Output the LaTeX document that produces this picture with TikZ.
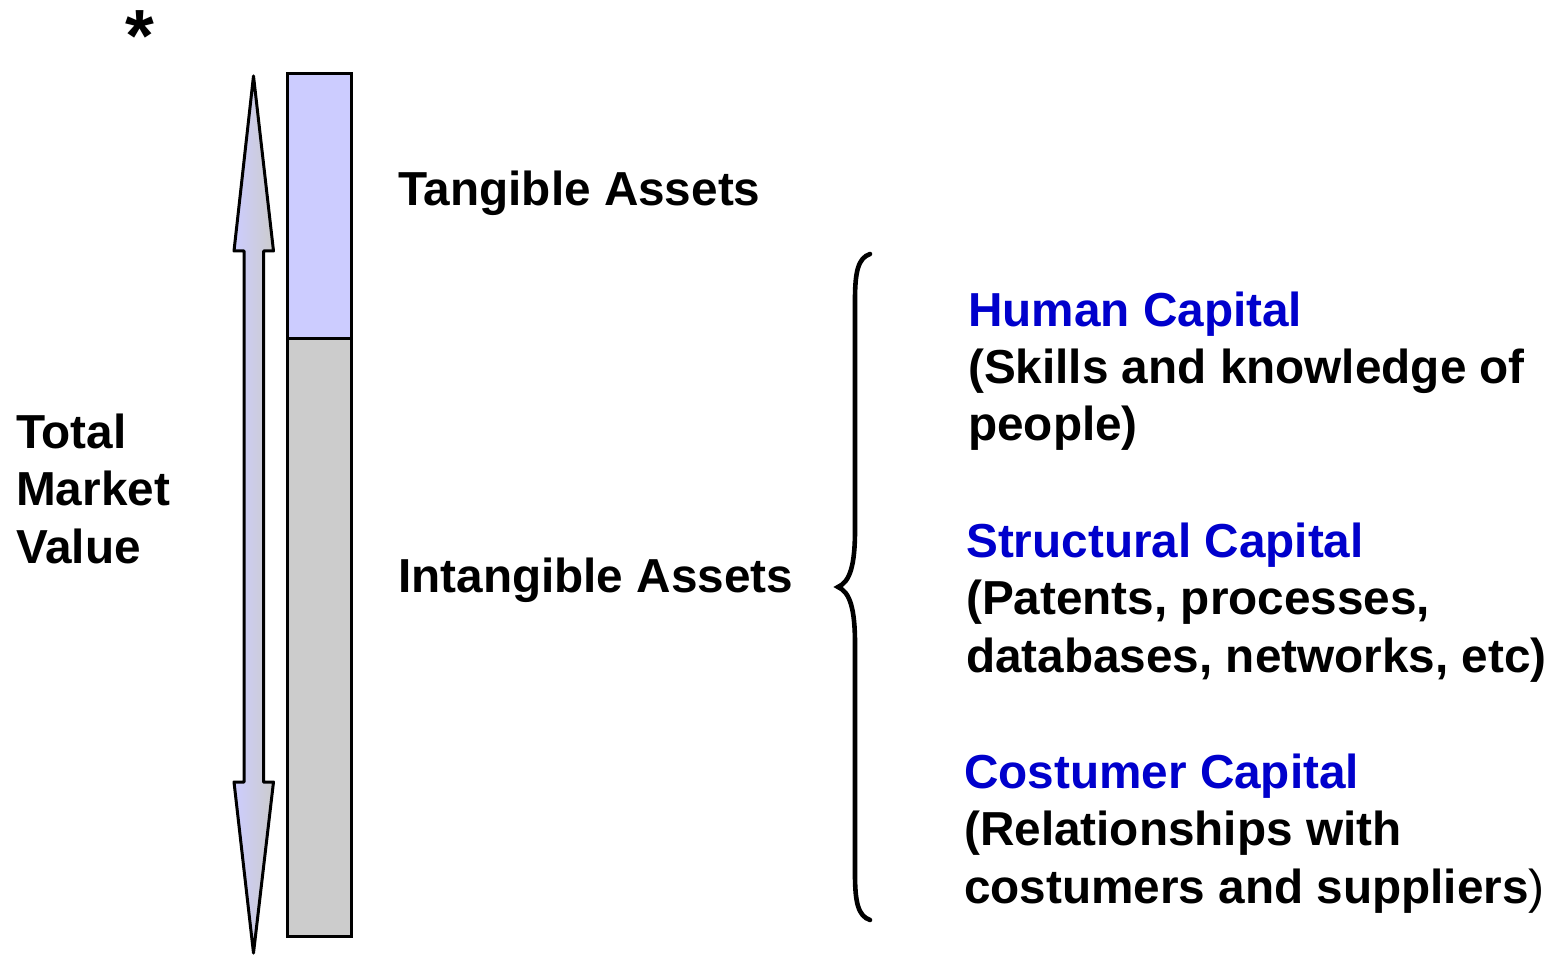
\documentclass[tikz,border=0pt]{standalone}
\usepackage{fontspec}
\setmainfont{Liberation Sans}
\begin{document}
\begin{tikzpicture}[x=1pt,y=-1pt,
  lbl/.style={inner sep=0pt,anchor=base west,align=left,
    font=\fontsize{47.7}{57.5}\selectfont\bfseries},
  outline/.style={draw=black,line width=3pt},
  barpart/.style={outline,line join=miter,minimum width=63.5pt,
    inner sep=0pt,outer sep=0pt,anchor=north west}]
\definecolor{tanblue}{HTML}{CCCCFF}
\definecolor{intgrey}{HTML}{CCCCCC}
\definecolor{capblue}{HTML}{0000CC}
\useasboundingbox (0,0) rectangle (1559,957);

% star mark
\node (star) [inner sep=0pt,anchor=base,font=\fontsize{74}{74}\selectfont\bfseries] at (140,62) {*};

% double-headed arrow for the total market value
\path[outline,line join=round,left color=tanblue,right color=intgrey]
  (253.5,76) -- (273.5,251) -- (263.5,251) -- (263.5,782) -- (273.5,782)
  -- (253.5,953) -- (234,782) -- (244,782) -- (244,251) -- (234,251) -- cycle;

% stacked bar: tangible on top, intangible below
\node (tang) [barpart,fill=tanblue,minimum height=265pt] at (287.5,74) {};
\node (intang) [barpart,fill=intgrey,minimum height=597pt] at (287.5,339) {};

% labels (base anchor sits on the last line)
\node (total) [lbl] at (16,563) {Total\\Market\\Value};
\node (tangl) [lbl] at (398,206) {Tangible Assets};
\node (intl) [lbl] at (398,592) {Intangible Assets};

% curly brace grouping the intangible components
\coordinate (btop) at (870,254);
\coordinate (bbot) at (870,920);
\coordinate (btip) at (838,587);
\draw[line width=4.6pt,line cap=round]
  (btop) .. controls (858,258) and (855,272) .. (855,300)
  -- (855,530) .. controls (855,565) and (850,582) .. (btip)
  .. controls (850,592) and (855,609) .. (855,644)
  -- (855,874) .. controls (855,902) and (858,916) .. (bbot);

% components of intangible assets
\node (human) [lbl] at (968,441)
  {\textcolor{capblue}{Human Capital}\\(Skills and knowledge of\\people)};
\node (struct) [lbl] at (966,672)
  {\textcolor{capblue}{Structural Capital}\\(Patents, processes,\\databases, networks, etc)};
\node (cust) [lbl] at (964,903)
  {\textcolor{capblue}{Costumer Capital}\\(Relationships with\\costumers and suppliers{\mdseries)}};
\end{tikzpicture}
\end{document}
